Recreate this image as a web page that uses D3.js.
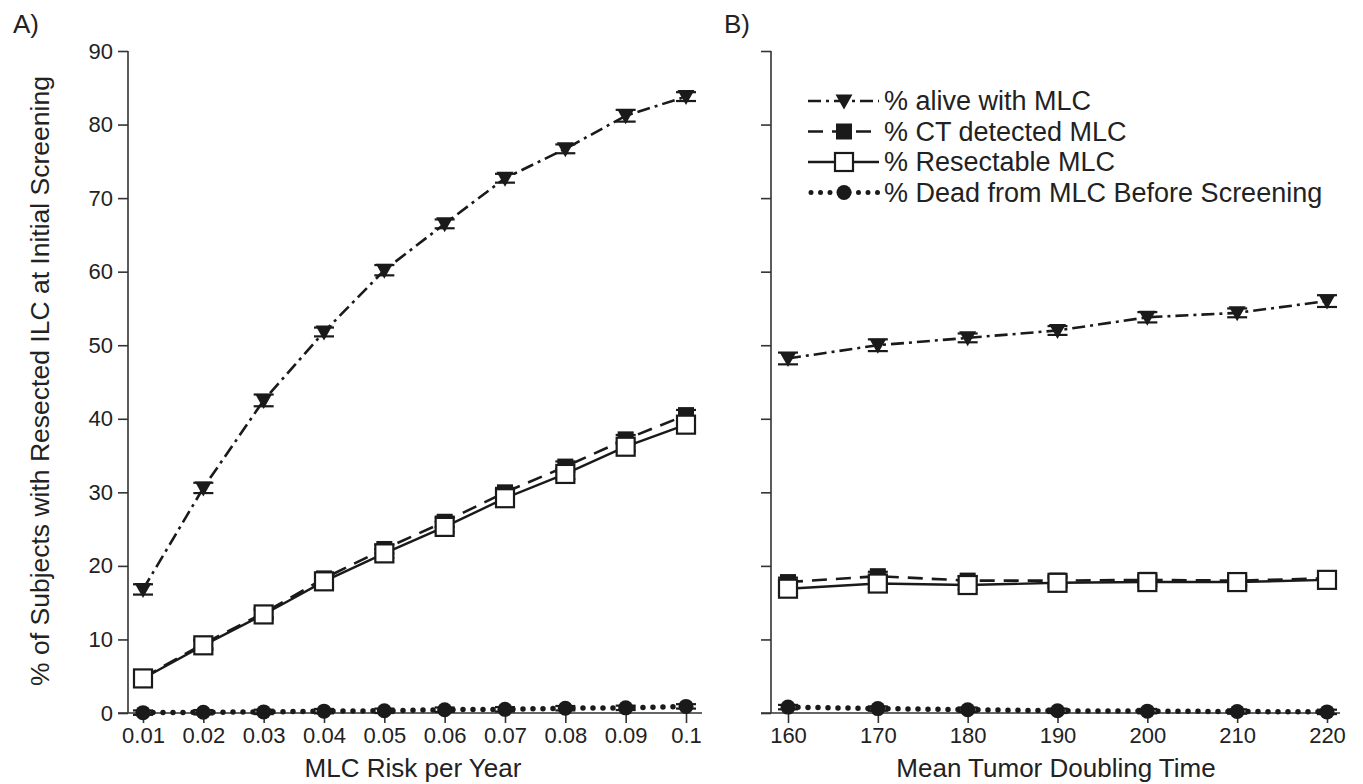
<!DOCTYPE html>
<html><head><meta charset="utf-8">
<script src="https://cdn.jsdelivr.net/npm/d3@7"></script>
<style>body{margin:0;background:#fff}svg{display:block;font-family:"Liberation Sans",Arial,sans-serif}</style>
</head><body>
<svg id="c" width="1363" height="784"></svg>
<script>
// ---- data ----
const riskX = [0.01,0.02,0.03,0.04,0.05,0.06,0.07,0.08,0.09,0.1];
const riskTickLabels = ["0.01","0.02","0.03","0.04","0.05","0.06","0.07","0.08","0.09","0.1"];
const aliveA = [16.8,30.6,42.5,51.8,60.2,66.5,72.7,76.7,81.2,83.8];
const aliveAErr = [0.7,0.7,0.8,0.6,0.7,0.6,0.6,0.6,0.8,0.6];
const ctA = [4.8,9.4,13.6,18.3,22.3,26.0,30.0,33.5,37.2,40.5];
const ctAErr = [0.6,0.6,0.6,0.6,0.6,0.7,0.6,0.7,0.6,0.7];
const resA = [4.7,9.2,13.4,17.9,21.7,25.3,29.2,32.5,36.2,39.2];
const resAErr = [0.6,0.6,0.6,0.6,0.6,0.7,0.6,0.7,0.6,0.7];
const deadA = [0.05,0.1,0.15,0.25,0.3,0.45,0.5,0.65,0.7,0.9];
const deadAErr = [0.3,0.3,0.3,0.3,0.3,0.3,0.3,0.3,0.3,0.3];

const dtX = [160,170,180,190,200,210,220];
const dtTickLabels = ["160","170","180","190","200","210","220"];
const aliveB = [48.2,50.0,51.0,52.0,53.8,54.4,56.0];
const aliveBErr = [0.8,0.8,0.6,0.6,0.7,0.6,0.8];
const ctB = [17.8,18.6,18.0,18.0,18.1,18.0,18.3];
const ctBErr = [0.6,0.6,0.6,0.6,0.6,0.6,0.6];
const resB = [16.9,17.6,17.4,17.7,17.8,17.8,18.1];
const resBErr = [0.6,0.6,0.6,0.6,0.6,0.6,0.6];
const deadB = [0.8,0.6,0.45,0.3,0.25,0.2,0.15];
const deadBErr = [0.3,0.3,0.3,0.3,0.3,0.3,0.3];

const yTicks = [0,10,20,30,40,50,60,70,80,90];
const legendLabels = ["% alive with MLC","% CT detected MLC","% Resectable MLC","% Dead from MLC Before Screening"];

// ---- styles ----
const seriesStyle = [
  {dash:"13,5,3,5", width:2.6, cap:"butt", marker:"tri"},
  {dash:"15,9", width:2.6, cap:"butt", marker:"fsq"},
  {dash:null, width:2.4, cap:"butt", marker:"osq"},
  {dash:"0,10", width:5.5, cap:"round", marker:"circ"}
];
const ink = "#1a1a1a";
const txt = "#222";
const svg = d3.select("#c");
const y = d3.scaleLinear().domain([0,90]).range([713,51]);

function drawMarker(g, type, cx, cy){
  if(type==="tri"){
    g.append("path").attr("d",`M${cx-8.5},${cy-6.5}L${cx+8.5},${cy-6.5}L${cx},${cy+8.5}Z`).attr("fill",ink);
  } else if(type==="fsq"){
    g.append("rect").attr("x",cx-8).attr("y",cy-8).attr("width",16).attr("height",16).attr("fill",ink);
  } else if(type==="osq"){
    g.append("rect").attr("x",cx-9).attr("y",cy-9).attr("width",18).attr("height",18).attr("fill","#fff").attr("stroke",ink).attr("stroke-width",2.2);
  } else {
    g.append("circle").attr("cx",cx).attr("cy",cy).attr("r",7.5).attr("fill",ink);
  }
}

function panel(xs, x, seriesList, showLabels, xTicksLab, xTitle, axisX0, axisX1, xTitleX, letter, letterX){
  const g = svg.append("g");
  // y axis
  const yAx = d3.axisLeft(y).tickValues(yTicks).tickSize(10).tickPadding(5)
      .tickFormat(showLabels ? d3.format("d") : () => "");
  const gy = g.append("g").attr("transform",`translate(${axisX0},0)`).call(yAx);
  gy.select(".domain").remove();
  gy.append("line").attr("x1",0).attr("x2",0).attr("y1",y(90)).attr("y2",y(0)).attr("stroke","#333").attr("stroke-width",1.6);
  gy.selectAll(".tick line").attr("stroke","#333").attr("stroke-width",1.6);
  gy.selectAll(".tick text").attr("font-size",22).attr("fill",txt).attr("font-family","Liberation Sans, Arial, sans-serif");
  // x axis
  const xAx = d3.axisBottom(x).tickValues(xs).tickSize(10).tickPadding(4).tickFormat((d,i)=>xTicksLab[i]);
  const gx = g.append("g").attr("transform",`translate(0,${y(0)})`).call(xAx);
  gx.select(".domain").remove();
  gx.append("line").attr("x1",axisX0-10).attr("x2",axisX1).attr("y1",0).attr("y2",0).attr("stroke","#333").attr("stroke-width",1.6);
  gx.selectAll(".tick line").attr("stroke","#333").attr("stroke-width",1.6);
  gx.selectAll(".tick text").attr("font-size",22).attr("fill",txt).attr("font-family","Liberation Sans, Arial, sans-serif");
  g.append("text").attr("x",xTitleX).attr("y",777).attr("text-anchor","middle").attr("font-size",26).attr("fill",txt).text(xTitle);
  g.append("text").attr("x",letterX).attr("y",33).attr("font-size",26).attr("fill",txt).text(letter);

  // draw order: dead, CT detected, resectable (on top of CT), alive
  const order = [3,1,2,0];
  order.forEach(si=>{
    const s = seriesList[si], st = seriesStyle[si];
    const line = d3.line().x((d,i)=>x(xs[i])).y(d=>y(d));
    const p = g.append("path").datum(s.v).attr("d",line).attr("fill","none").attr("stroke",ink)
      .attr("stroke-width",st.width).attr("stroke-linecap",st.cap);
    if(st.dash) p.attr("stroke-dasharray",st.dash);
  });
  order.forEach(si=>{
    const s = seriesList[si], st = seriesStyle[si];
    s.v.forEach((v,i)=>{
      const cx = x(xs[i]), cy = y(v);
      const e = s.e[i];
      g.append("line").attr("x1",cx).attr("x2",cx).attr("y1",y(v+e)).attr("y2",y(v-e)).attr("stroke",ink).attr("stroke-width",2);
      [v+e, v-e].forEach(ev=>{
        g.append("line").attr("x1",cx-10).attr("x2",cx+10).attr("y1",y(ev)).attr("y2",y(ev)).attr("stroke",ink).attr("stroke-width",2.2);
      });
      drawMarker(g, st.marker, cx, cy);
    });
  });
  return g;
}

const xA = d3.scaleLinear().domain([0.01,0.1]).range([143,686]);
panel(riskX, xA, [{v:aliveA,e:aliveAErr},{v:ctA,e:ctAErr},{v:resA,e:resAErr},{v:deadA,e:deadAErr}],
  true, riskTickLabels, "MLC Risk per Year", 128, 702, 413, "A)", 13);

const xB = d3.scaleLinear().domain([160,220]).range([788,1327]);
panel(dtX, xB, [{v:aliveB,e:aliveBErr},{v:ctB,e:ctBErr},{v:resB,e:resBErr},{v:deadB,e:deadBErr}],
  false, dtTickLabels, "Mean Tumor Doubling Time", 771, 1340, 1056, "B)", 724);

// y title
svg.append("text").attr("transform","translate(49,381) rotate(-90)").attr("text-anchor","middle")
  .attr("font-size",26.5).attr("fill",txt).text("% of Subjects with Resected ILC at Initial Screening");

// legend
const lg = svg.append("g");
legendLabels.forEach((lab,i)=>{
  const cy = 101 + i*30.5;
  const st = seriesStyle[i];
  const l = lg.append("line").attr("x1",i===3?811:808).attr("x2",879).attr("y1",cy).attr("y2",cy).attr("stroke",ink)
    .attr("stroke-width",i===3?5:st.width).attr("stroke-linecap",st.cap);
  if(st.dash) l.attr("stroke-dasharray", i===3 ? "0,9.5" : st.dash);
  drawMarker(lg, st.marker, 844, cy);
  lg.append("text").attr("x",884).attr("y",cy+9).attr("font-size",27).attr("fill",txt).text(lab);
});
</script>
</body></html>
